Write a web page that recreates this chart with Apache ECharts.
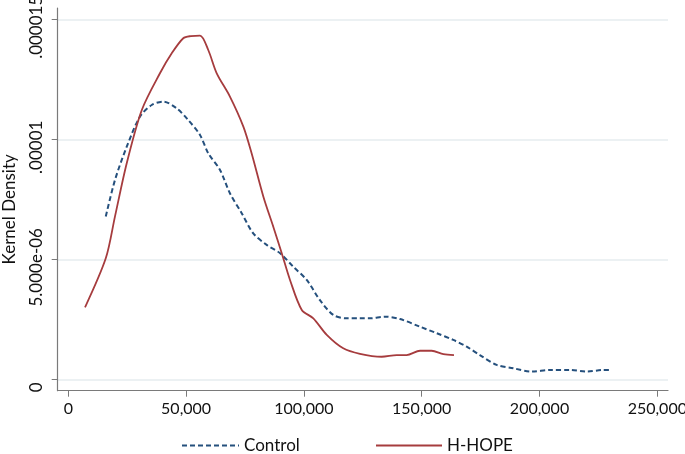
<!DOCTYPE html>
<html>
	<head>
		<meta charset="utf-8">
		<title>Kernel Density</title>
		<script src="https://cdn.jsdelivr.net/npm/echarts@6/dist/echarts.min.js"></script>
		<style>
			html, body { margin: 0; padding: 0; background: #fff; }
		</style>
	</head>
	<body>
		<div id="main" style="width: 685px;height:454px;"></div>
		<script type="text/javascript">
			// 横轴 (收入) 与纵轴 (密度) 的刻度
			var xTicks = [0, 50000, 100000, 150000, 200000, 250000];
			var yTicks = [0, 5e-6, 1e-5, 1.5e-5];
			var yTickLabels = ['0', '5.000e-06', '.00001', '.000015'];

			// H-HOPE 曲线
			var hopeX = [7100, 15900, 19800, 24800, 31200, 38900, 43900, 48800, 52000, 55900, 59400,
				63000, 68600, 74300, 77800, 82800, 87000, 90600, 94100, 99100, 104000, 109700,
				116700, 123800, 133000, 139400, 143600, 149300, 154200, 159200, 163700];
			var hopeY = [3.00e-6, 5.04e-6, 6.78e-6, 9.00e-6, 11.22e-6, 12.75e-6, 13.58e-6, 14.21e-6,
				14.30e-6, 14.32e-6, 13.72e-6, 12.75e-6, 11.78e-6, 10.53e-6, 9.42e-6, 7.61e-6, 6.36e-6,
				5.25e-6, 4.14e-6, 2.89e-6, 2.54e-6, 1.85e-6, 1.29e-6, 1.06e-6, 0.94e-6, 1.01e-6,
				1.01e-6, 1.19e-6, 1.19e-6, 1.05e-6, 1.01e-6];

			// Control 曲线
			var controlX = [15900, 19800, 24800, 30400, 35400, 40300, 46000, 50900, 55900, 59400,
				64400, 68600, 73600, 78500, 84200, 89900, 95500, 101200, 106800, 112500, 118200,
				123800, 128100, 134400, 140800, 149300, 156400, 163400, 169100, 174700, 181800,
				188900, 196700, 204500, 213000, 220000, 227100, 230600];
			var controlY = [6.78e-6, 8.30e-6, 9.69e-6, 10.94e-6, 11.43e-6, 11.57e-6, 11.29e-6,
				10.80e-6, 10.18e-6, 9.42e-6, 8.72e-6, 7.75e-6, 6.92e-6, 6.08e-6, 5.60e-6, 5.25e-6,
				4.69e-6, 4.14e-6, 3.30e-6, 2.68e-6, 2.54e-6, 2.54e-6, 2.54e-6, 2.61e-6, 2.51e-6,
				2.19e-6, 1.92e-6, 1.64e-6, 1.36e-6, 1.01e-6, 0.60e-6, 0.46e-6, 0.32e-6, 0.39e-6,
				0.39e-6, 0.32e-6, 0.39e-6, 0.39e-6];

			function pairs(xs, ys) {
				var data = [];
				for (var i = 0; i < xs.length; i++) {
					data.push([xs[i], ys[i]]);
				}
				return data;
			}

			var myChart = echarts.init(document.getElementById('main'));
			var font = 'Lato';
			var legendText = { fontFamily: font, fontSize: 17, color: '#111' };

			var option = {
				animation: false,
				backgroundColor: '#fff',
				grid: {
					left: 57.7,
					right: 17,
					top: 8,
					bottom: 63.3,
					containLabel: false,
					outerBoundsMode: 'none'
				},
				// 两个图例, 线段长度不同
				legend: [
					{
						top: 437,
						left: 181,
						padding: 0,
						itemWidth: 57,
						itemHeight: 14,
						itemStyle: { opacity: 0 },
						textStyle: legendText,
						data: ['Control']
					},
					{
						top: 437,
						left: 375,
						padding: 0,
						itemWidth: 66,
						itemHeight: 14,
						itemStyle: { opacity: 0 },
						textStyle: legendText,
						data: ['H-HOPE']
					}
				],
				xAxis: {
					type: 'value',
					min: -4500,
					max: 254540,
					axisLine: { onZero: false, lineStyle: { color: '#7a7a7a', width: 1.2 } },
					axisTick: { show: true, length: 6, customValues: xTicks, lineStyle: { color: '#7a7a7a' } },
					axisLabel: {
						customValues: xTicks,
						margin: 10,
						fontFamily: font,
						fontSize: 16,
						color: '#111',
						formatter: function (v) { return v.toLocaleString('en-US'); }
					},
					splitLine: { show: false }
				},
				yAxis: {
					type: 'value',
					min: -4.75e-7,
					max: 1.547e-5,
					name: 'Kernel Density',
					nameLocation: 'middle',
					nameGap: 40,
					nameTextStyle: { fontFamily: font, fontSize: 17, color: '#111', padding: [0, 20, 0, 0] },
					axisLine: { show: true, onZero: false, lineStyle: { color: '#7a7a7a', width: 1.2 } },
					axisTick: { show: true, length: 6, customValues: yTicks, lineStyle: { color: '#7a7a7a' } },
					axisLabel: {
						customValues: yTicks,
						rotate: 90,
						margin: 13,
						padding: [0, 16, 0, 0],
						fontFamily: font,
						fontSize: 17,
						color: '#111',
						formatter: function (v) {
							var i = yTicks.indexOf(v);
							return i >= 0 ? yTickLabels[i] : '';
						}
					},
					splitLine: { show: true, lineStyle: { color: '#e6edef', width: 1.5 } }
				},
				series: [
					{
						name: 'Control',
						type: 'line',
						symbol: 'none',
						smooth: 0.3,
						lineStyle: { color: '#25507d', width: 2, type: [5, 3] },
						itemStyle: { color: '#25507d' },
						data: pairs(controlX, controlY)
					},
					{
						name: 'H-HOPE',
						type: 'line',
						symbol: 'none',
						smooth: 0.3,
						lineStyle: { color: '#a63c3e', width: 1.8 },
						itemStyle: { color: '#b8393c' },
						data: pairs(hopeX, hopeY)
					}
				]
			};

			option && myChart.setOption(option);
		</script>
	</body>
</html>
